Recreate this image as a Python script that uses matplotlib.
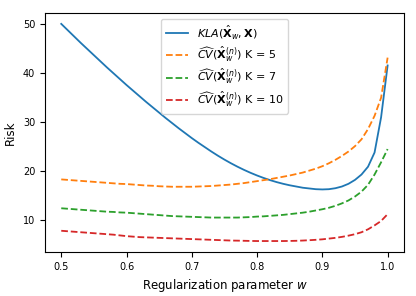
import numpy as np
import matplotlib
matplotlib.use("Agg")
import matplotlib.pyplot as plt

w = [0.50, 0.51, 0.52, 0.53, 0.54, 0.55, 0.56, 0.57, 0.58, 0.59,
     0.60, 0.61, 0.62, 0.63, 0.64, 0.65, 0.66, 0.67, 0.68, 0.69,
     0.70, 0.71, 0.72, 0.73, 0.74, 0.75, 0.76, 0.77, 0.78, 0.79,
     0.80, 0.81, 0.82, 0.83, 0.84, 0.85, 0.86, 0.87, 0.88, 0.89,
     0.90, 0.91, 0.92, 0.93, 0.94, 0.95, 0.96, 0.97, 0.98, 0.99, 1.00]

kla = [50.1, 48.8, 47.5, 46.2, 44.95, 43.7, 42.45, 41.2, 40.0, 38.8,
       37.6, 36.45, 35.3, 34.15, 33.05, 31.95, 30.85, 29.8, 28.75, 27.75,
       26.75, 25.8, 24.9, 24.0, 23.15, 22.35, 21.6, 20.9, 20.25, 19.65,
       19.1, 18.6, 18.15, 17.75, 17.4, 17.1, 16.85, 16.6, 16.45, 16.3,
       16.25, 16.3, 16.5, 16.85, 17.4, 18.2, 19.3, 20.9, 23.8, 31.0, 41.6]

cv5 = [18.3, 18.2, 18.1, 18.0, 17.9, 17.8, 17.7, 17.6, 17.5, 17.4,
       17.35, 17.25, 17.15, 17.05, 17.0, 16.9, 16.85, 16.8, 16.8, 16.8,
       16.8, 16.85, 16.9, 16.95, 17.05, 17.15, 17.25, 17.4, 17.55, 17.75,
       17.95, 18.15, 18.35, 18.6, 18.85, 19.1, 19.4, 19.7, 20.1, 20.5,
       21.0, 21.6, 22.3, 23.1, 24.0, 25.1, 26.5, 28.6, 31.3, 35.0, 43.2]

cv7 = [12.4, 12.3, 12.2, 12.1, 12.0, 11.9, 11.8, 11.7, 11.65, 11.55,
       11.5, 11.4, 11.3, 11.2, 11.1, 11.0, 10.9, 10.8, 10.75, 10.7,
       10.65, 10.6, 10.55, 10.5, 10.5, 10.5, 10.5, 10.5, 10.55, 10.6,
       10.7, 10.75, 10.85, 10.95, 11.05, 11.2, 11.35, 11.5, 11.7, 11.95,
       12.2, 12.5, 12.9, 13.4, 14.0, 14.8, 15.8, 17.2, 19.3, 21.8, 24.5]

cv10 = [7.8, 7.7, 7.6, 7.5, 7.4, 7.3, 7.2, 7.1, 7.0, 6.85,
        6.7, 6.6, 6.5, 6.45, 6.4, 6.35, 6.3, 6.25, 6.2, 6.15,
        6.1, 6.05, 6.0, 5.95, 5.9, 5.85, 5.8, 5.78, 5.75, 5.72,
        5.7, 5.7, 5.7, 5.7, 5.7, 5.72, 5.75, 5.8, 5.87, 5.95,
        6.05, 6.2, 6.35, 6.55, 6.8, 7.1, 7.5, 8.1, 8.9, 9.8, 11.2]

labels = [r'$KLA(\hat{\mathbf{X}}_w, \mathbf{X})$',
          r'$\widehat{CV}(\hat{\mathbf{X}}_w^{(n)})$ K = 5',
          r'$\widehat{CV}(\hat{\mathbf{X}}_w^{(n)})$ K = 7',
          r'$\widehat{CV}(\hat{\mathbf{X}}_w^{(n)})$ K = 10']

dpi = 100
fig = plt.figure(figsize=(4.16, 2.96), dpi=dpi)
ax = fig.add_axes([0.108, 0.149, 0.863, 0.807])

ax.plot(w, kla, color='#1f77b4', lw=1.3, label=labels[0])
ax.plot(w, cv5, color='#ff7f0e', lw=1.3, ls='--', label=labels[1])
ax.plot(w, cv7, color='#2ca02c', lw=1.3, ls='--', label=labels[2])
ax.plot(w, cv10, color='#d62728', lw=1.3, ls='--', label=labels[3])

ax.set_xticks([0.5, 0.6, 0.7, 0.8, 0.9, 1.0])
ax.set_yticks([10, 20, 30, 40, 50])
ax.tick_params(labelsize=7)
ax.set_xlabel(r'Regularization parameter $w$', fontsize=8.5)
ax.set_ylabel('Risk', fontsize=8.5)
ax.legend(loc='upper center', fontsize=8, labelspacing=0.3)

fig.savefig('out.png', dpi=dpi)
